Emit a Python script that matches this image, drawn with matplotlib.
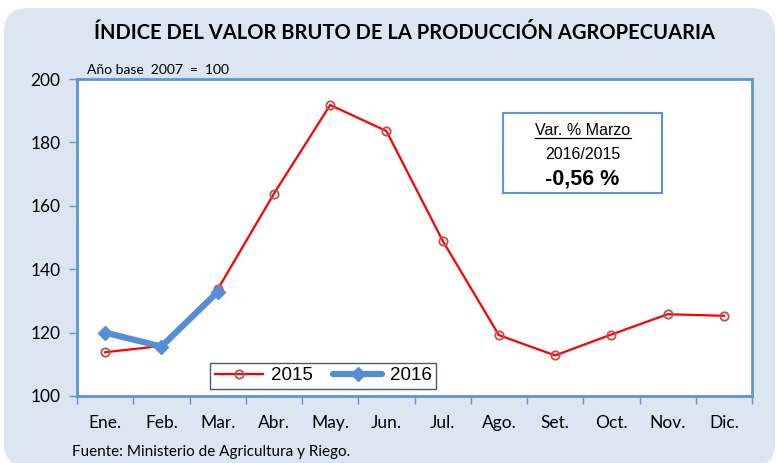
import matplotlib.pyplot as plt
from matplotlib.patches import FancyBboxPatch
from matplotlib.lines import Line2D

# ===============================
# DATOS
# ===============================
meses = ["Ene.", "Feb.", "Mar.", "Abr.", "May.", "Jun.",
         "Jul.", "Ago.", "Set.", "Oct.", "Nov.", "Dic."]
valores_2015 = [113.8, 115.8, 133.6, 163.8, 191.8, 183.6,
                149.0, 119.2, 112.8, 119.4, 125.8, 125.3]
valores_2016 = [120.0, 115.6, 132.8]

# ===============================
# FIGURA
# ===============================
W, H = 776, 463
fig = plt.figure(figsize=(W / 100, H / 100), dpi=100)
fig.patch.set_facecolor("white")

# fondo celeste con esquinas redondeadas (en pixeles)
fondo = FancyBboxPatch((4, -4), 771, H - 8 + 4,
                       boxstyle="round,pad=0,rounding_size=24",
                       transform=None, facecolor="#dce6f2",
                       edgecolor="none", zorder=-10)
fig.patches.append(fondo)

ax = fig.add_axes([77 / W, 1 - 396 / H, 675 / W, 317 / H])
ax.set_zorder(1)
ax.set_facecolor("white")

x = list(range(len(meses)))
ax.plot(x, valores_2015, color="#ff0000", lw=1.6, marker="o", ms=6,
        mfc="none", mec="#c0504d", mew=1.3, label="2015", zorder=3)
ax.plot(x[:len(valores_2016)], valores_2016, color="#558ed5", lw=4.5,
        marker="D", ms=7, mfc="#558ed5", mec="#558ed5", label="2016",
        zorder=4, solid_capstyle="round")

ax.set_xlim(-0.5, 11.5)
ax.set_ylim(100, 200)
ax.set_yticks(range(100, 201, 20))
ax.set_xticks(x)
ax.set_xticklabels(meses)
ax.set_xticks([i - 0.5 for i in range(13)], minor=True)

azul = "#5f93d8"
for s in ax.spines.values():
    s.set_color(azul)
    s.set_linewidth(2)

ax.tick_params(axis="x", which="major", length=0, pad=14, labelsize=12.5)
ax.tick_params(axis="x", which="minor", length=6, color=azul, width=1)
ax.tick_params(axis="y", length=6, color=azul, width=1, pad=6, labelsize=12.5)
for lab in ax.get_xticklabels() + ax.get_yticklabels():
    lab.set_fontfamily("Lato")

leg = ax.legend(loc="lower left", bbox_to_anchor=(0.197, 0.022),
                ncol=2, frameon=True, fancybox=False,
                prop={"family": "Liberation Sans", "size": 13.5},
                handlelength=2.6, borderpad=0.25, columnspacing=1.1,
                handletextpad=0.4, borderaxespad=0)
leg.get_frame().set_edgecolor("#1f2d4d")
leg.get_frame().set_linewidth(1)

# Cuadro de variación
cuadro = FancyBboxPatch((0.631, 0.641), 0.236, 0.252, boxstyle="square,pad=0",
                        transform=ax.transAxes, facecolor="white",
                        edgecolor=azul, lw=1.5, zorder=5)
ax.add_patch(cuadro)
ax.text(0.749, 0.839, "Var. % Marzo", transform=ax.transAxes, ha="center",
        va="center", fontsize=11.5, family="Liberation Sans", zorder=6)
ax.add_line(Line2D([0.679, 0.820], [0.813, 0.813], transform=ax.transAxes,
                   color="black", lw=0.9, zorder=6))
ax.text(0.749, 0.762, "2016/2015", transform=ax.transAxes, ha="center",
        va="center", fontsize=11.5, family="Liberation Sans", zorder=6)
ax.text(0.749, 0.685, "-0,56 %", transform=ax.transAxes, ha="center",
        va="center", fontsize=15.5, fontweight="bold",
        family="Liberation Sans", zorder=6)

# Textos
fig.text(405 / W, 1 - 33 / H, "ÍNDICE DEL VALOR BRUTO DE LA PRODUCCIÓN AGROPECUARIA",
         ha="center", va="center", fontsize=14.5, fontweight="bold", family="Lato")
fig.text(87 / W, 1 - 70 / H, "Año base  2007  =  100", ha="left", va="center",
         fontsize=10, family="Lato")
fig.text(72 / W, 1 - 452 / H, "Fuente: Ministerio de Agricultura y Riego.",
         ha="left", va="center", fontsize=11, family="Lato")

fig.savefig("out.png", dpi=100)
